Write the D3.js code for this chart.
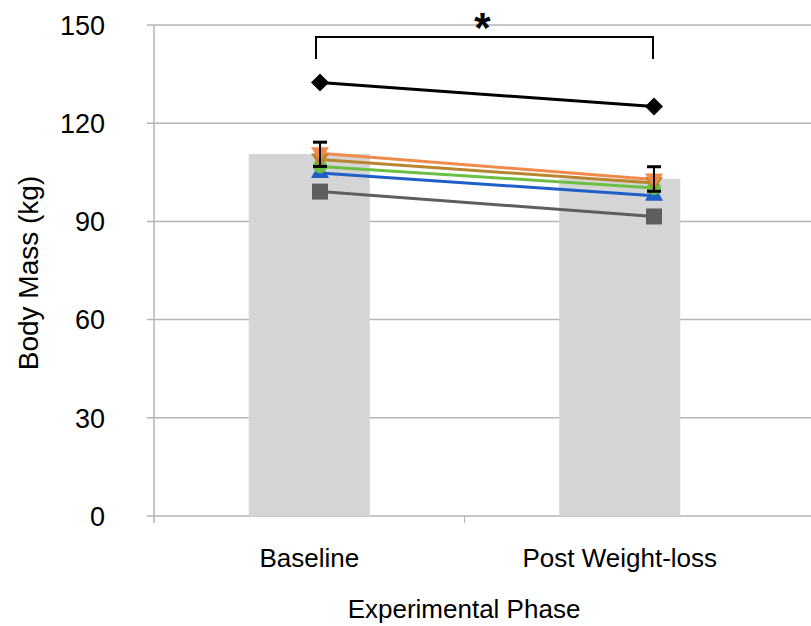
<!DOCTYPE html>
<meta charset="utf-8">
<style>
    body { margin: 0; background: #fff; }
    text { font-family: "Liberation Sans", Arial, sans-serif; fill: #000; }
</style>
<svg width="811" height="626"></svg>
<script src="https://cdn.jsdelivr.net/npm/d3@7"></script>
<script>

    // data
    var phases = ["Baseline", "Post Weight-loss"];
    var meanMass = [110.6, 103.0];
    var errUp = [3.6, 3.7];
    var errDown = [3.8, 3.8];
    var yTicks = [0, 30, 60, 90, 120, 150];

    var subjects = ["S1", "S2", "S3", "S4", "S5", "S6"];
    var subjectBaseline = [132.4, 110.8, 108.9, 106.8, 104.8, 99.1];
    var subjectPost = [125.1, 102.8, 101.7, 100.2, 97.8, 91.5];
    var subjectColor = ["#000000", "#f28a4c", "#b8862e", "#6cbf45", "#1f5fc8", "#5e5e5e"];
    var subjectShape = ["diamond", "triDown", "triDown", "circle", "triUp", "square"];

    var svg = d3.select("svg"),
        width = +svg.attr("width"),
        height = +svg.attr("height");

    var plotLeft = 154, plotTop = 25, plotBottom = 516;

    var y = d3.scaleLinear().domain([0, 150]).range([plotBottom, plotTop]);
    var x = d3.scaleBand().domain(phases).range([plotLeft, 775]).paddingInner(0).paddingOuter(0);
    // line series sit on their own category axis (offset from the bars)
    var xl = d3.scalePoint().domain(phases).range([320, 654]);

    // gridlines
    svg.append("g")
        .selectAll("line")
        .data(yTicks)
        .enter()
        .append("line")
        .attr("x1", plotLeft - 7)
        .attr("x2", width)
        .attr("y1", function (d) { return y(d); })
        .attr("y2", function (d) { return y(d); })
        .attr("stroke", "#b5b5b5")
        .attr("stroke-width", 1.5);

    // y axis line
    svg.append("line")
        .attr("x1", plotLeft).attr("x2", plotLeft)
        .attr("y1", plotTop).attr("y2", plotBottom + 7)
        .attr("stroke", "#b5b5b5").attr("stroke-width", 1.5);

    // category separator tick
    svg.append("line")
        .attr("x1", x(phases[1])).attr("x2", x(phases[1]))
        .attr("y1", plotBottom).attr("y2", plotBottom + 7)
        .attr("stroke", "#b5b5b5").attr("stroke-width", 1);

    // y tick labels
    svg.append("g")
        .selectAll("text")
        .data(yTicks)
        .enter()
        .append("text")
        .attr("x", 105)
        .attr("y", function (d) { return y(d); })
        .attr("dy", "0.36em")
        .attr("text-anchor", "end")
        .style("font-size", "27px")
        .text(function (d) { return d; });

    // bars
    var barW = x.bandwidth() * 0.39;
    svg.append("g")
        .selectAll("rect")
        .data(meanMass)
        .enter()
        .append("rect")
        .attr("x", function (d, i) { return x(phases[i]) + x.bandwidth() / 2 - barW / 2; })
        .attr("y", function (d) { return y(d); })
        .attr("width", barW)
        .attr("height", function (d) { return plotBottom - y(d); })
        .attr("fill", "#d5d5d5");

    // subject lines
    var lineG = svg.append("g");
    subjects.forEach(function (s, i) {
        var pts = [subjectBaseline[i], subjectPost[i]];
        lineG.append("line")
            .attr("x1", xl(phases[0])).attr("y1", y(pts[0]))
            .attr("x2", xl(phases[1])).attr("y2", y(pts[1]))
            .attr("stroke", subjectColor[i])
            .attr("stroke-width", 3);
    });

    function marker(g, shape, cx, cy, col) {
        if (shape == "diamond") {
            g.append("path").attr("d", "M" + cx + "," + (cy - 9) + "L" + (cx + 9) + "," + cy + "L" + cx + "," + (cy + 9) + "L" + (cx - 9) + "," + cy + "Z").attr("fill", col);
        } else if (shape == "square") {
            g.append("rect").attr("x", cx - 8).attr("y", cy - 8).attr("width", 16).attr("height", 16).attr("fill", col);
        } else if (shape == "circle") {
            g.append("circle").attr("cx", cx).attr("cy", cy).attr("r", 7).attr("fill", col);
        } else if (shape == "triDown") {
            g.append("path").attr("d", "M" + (cx - 9) + "," + (cy - 6) + "L" + (cx + 9) + "," + (cy - 6) + "L" + cx + "," + (cy + 8) + "Z").attr("fill", col);
        } else if (shape == "triUp") {
            g.append("path").attr("d", "M" + (cx - 9) + "," + (cy + 5) + "L" + (cx + 9) + "," + (cy + 5) + "L" + (cx + 4) + "," + (cy - 4) + "L" + (cx - 4) + "," + (cy - 4) + "Z").attr("fill", col);
        }
    }

    // draw markers back to front
    var order = [5, 4, 3, 2, 1, 0];
    order.forEach(function (i) {
        marker(lineG, subjectShape[i], xl(phases[0]), y(subjectBaseline[i]), subjectColor[i]);
        marker(lineG, subjectShape[i], xl(phases[1]), y(subjectPost[i]), subjectColor[i]);
    });

    // error bars
    var errG = svg.append("g");
    meanMass.forEach(function (m, i) {
        var cx = xl(phases[i]);
        var y1 = y(m + errUp[i]), y2 = y(m - errDown[i]);
        errG.append("line").attr("x1", cx).attr("x2", cx).attr("y1", y1).attr("y2", y2)
            .attr("stroke", "#000").attr("stroke-width", 2);
        errG.append("line").attr("x1", cx - 7).attr("x2", cx + 7).attr("y1", y1).attr("y2", y1)
            .attr("stroke", "#000").attr("stroke-width", 3);
        errG.append("line").attr("x1", cx - 7).attr("x2", cx + 7).attr("y1", y2).attr("y2", y2)
            .attr("stroke", "#000").attr("stroke-width", 3);
    });

    // significance bracket
    var bx1 = xl(phases[0]) - 4, bx2 = xl(phases[1]) - 1;
    svg.append("path")
        .attr("d", "M" + bx1 + ",59V37H" + bx2 + "V59")
        .attr("fill", "none")
        .attr("stroke", "#000")
        .attr("stroke-width", 2);
    svg.append("text")
        .attr("x", (bx1 + bx2) / 2 - 2)
        .attr("y", 42)
        .attr("text-anchor", "middle")
        .style("font-size", "42px")
        .style("font-weight", "bold")
        .text("*");

    // x labels
    svg.append("g")
        .selectAll("text")
        .data(phases)
        .enter()
        .append("text")
        .attr("x", function (d) { return x(d) + x.bandwidth() / 2; })
        .attr("y", 567)
        .attr("text-anchor", "middle")
        .style("font-size", "26px")
        .text(function (d) { return d; });

    // axis titles
    svg.append("text")
        .attr("x", 464)
        .attr("y", 618)
        .attr("text-anchor", "middle")
        .style("font-size", "26px")
        .text("Experimental Phase");

    svg.append("text")
        .attr("transform", "translate(38,273) rotate(-90)")
        .attr("text-anchor", "middle")
        .style("font-size", "28px")
        .text("Body Mass (kg)");

</script>
